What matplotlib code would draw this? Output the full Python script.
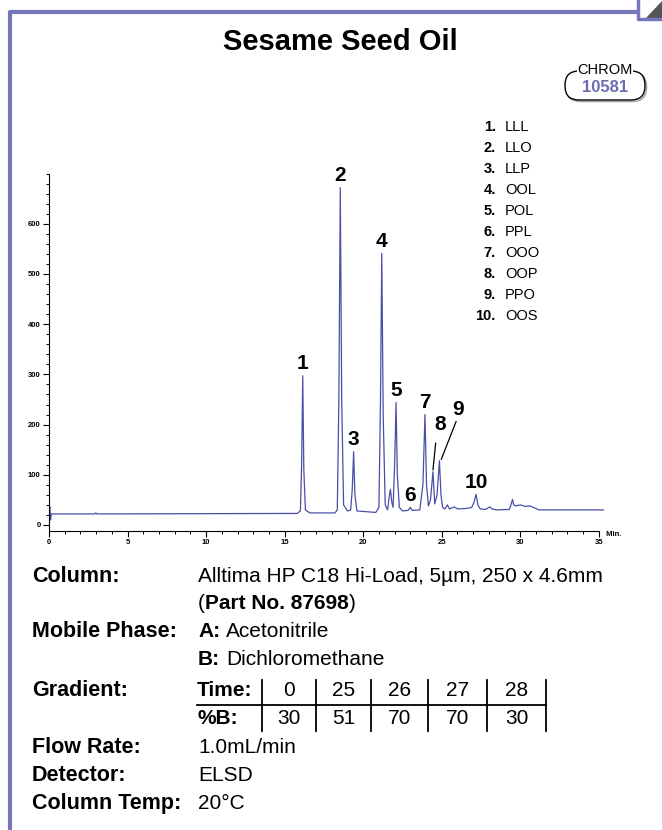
import numpy as np
import matplotlib.pyplot as plt
from matplotlib.ticker import MultipleLocator
from matplotlib.patches import FancyBboxPatch, Rectangle, Polygon

plt.rcParams['font.family'] = ['Liberation Sans', 'DejaVu Sans']

W, H = 662, 830

# ELSD trace, time (min) vs signal
trace_t = [0.0, 0.05, 0.1, 0.15, 0.3, 2.9, 2.97, 3.05, 15.8, 16.0, 16.08, 16.15, 16.22, 16.32,
           16.6, 18.2, 18.35, 18.45, 18.54, 18.63, 18.75, 19.0, 19.2, 19.3, 19.39, 19.47,
           19.6, 20.8, 21.0, 21.1, 21.18, 21.27, 21.4, 21.55, 21.65, 21.73, 21.82, 21.9,
           22.0, 22.09, 22.17, 22.3, 22.5, 22.85, 23.0, 23.12, 23.6, 23.8, 23.93, 24.03,
           24.15, 24.28, 24.44, 24.55, 24.7, 24.85, 24.95, 25.05, 25.2, 25.35, 25.5, 25.8,
           26.0, 26.6, 26.9, 27.05, 27.18, 27.3, 27.45, 27.8, 28.05, 28.2, 28.5, 29.3,
           29.4, 29.5, 29.58, 29.7, 30.0, 30.3, 30.6, 30.9, 31.2, 35.3]
trace_y = [22, 36, 10, 22, 22, 22, 24, 22, 23, 28, 120, 297, 110, 30,
           24, 24, 30, 250, 672, 250, 40, 28, 30, 70, 146, 60,
           28, 25, 35, 250, 541, 220, 40, 30, 55, 71, 45, 35,
           120, 244, 100, 35, 28, 29, 35, 29, 30, 80, 220, 80,
           38, 50, 106, 42, 60, 128, 60, 35, 32, 40, 32, 36,
           32, 33, 35, 45, 61, 40, 32, 31, 36, 32, 30, 31,
           40, 51, 40, 38, 40, 37, 38, 34, 30, 30]

peak_no = [1, 2, 3, 4, 5, 6, 7, 8, 9, 10]
peak_t = [16.15, 18.54, 19.39, 21.18, 22.09, 23.0, 23.93, 24.44, 24.85, 27.18]
peak_h = [297, 672, 146, 541, 244, 35, 220, 106, 128, 61]
compounds = ['LLL', 'LLO', 'LLP', 'OOL', 'POL', 'PPL', 'OOO', 'OOP', 'PPO', 'OOS']

grad_time = [0, 25, 26, 27, 28]
grad_b = [30, 51, 70, 70, 30]

frame_col = '#7676bb'
line_col = '#4a4fa6'

fig = plt.figure(figsize=(W / 100, H / 100), dpi=100)

# pixel-space layer for the page furniture
bg = fig.add_axes([0, 0, 1, 1])
bg.set_xlim(0, W)
bg.set_ylim(H, 0)
bg.axis('off')

bg.plot([10, 10, 638], [H, 12, 12], color=frame_col, lw=3, solid_capstyle='butt')
bg.plot([638, 638, W], [0, 19, 19], color=frame_col, lw=2.5)
bg.add_patch(Polygon([[646, 19], [W, 2], [W, 19]], closed=True, color='#555555'))

bg.text(340, 42, 'Sesame Seed Oil', ha='center', va='center', fontsize=21, fontweight='bold')

# CHROM badge
bg.add_patch(FancyBboxPatch((566.5, 72.5), 80, 29, boxstyle='round,pad=0,rounding_size=14',
                            fc='none', ec='#aaaaaa', lw=1.2))
bg.add_patch(FancyBboxPatch((565, 71), 80, 29, boxstyle='round,pad=0,rounding_size=14',
                            fc='white', ec='black', lw=1.0))
bg.add_patch(Rectangle((577, 64), 56, 12, fc='white', ec='none', zorder=3))
bg.text(605, 70, 'CHROM', ha='center', va='center', fontsize=10.5, zorder=4)
bg.text(605, 88, '10581', ha='center', va='center', fontsize=12, fontweight='bold',
        color='#6c6cb4', zorder=4)

# compound key
for i, (n, c) in enumerate(zip(peak_no, compounds)):
    yy = 127 + i * 21
    bg.text(496, yy, f'{n}.', ha='right', va='center', fontsize=10.5, fontweight='bold')
    bg.text(505, yy, c, ha='left', va='center', fontsize=10.5)

# chromatogram
ax = fig.add_axes([49 / W, 1 - 531 / H, 554.6 / W, 357.4 / H])
ax.set_facecolor('none')
ax.plot(trace_t, trace_y, color=line_col, lw=0.9)
ax.set_xlim(0, 35.3)
ax.set_ylim(-12, 700)
for s in ['top', 'right']:
    ax.spines[s].set_visible(False)
ax.spines['bottom'].set_bounds(0, 35)
ax.set_xticks(range(0, 36, 5))
ax.set_yticks(range(0, 601, 100))
ax.xaxis.set_minor_locator(MultipleLocator(1))
ax.yaxis.set_minor_locator(MultipleLocator(20))
ax.tick_params(which='major', length=4, width=0.8, labelsize=5.5, pad=2)
ax.tick_params(which='minor', length=2.5, width=0.7)
for lbl in ax.get_xticklabels() + ax.get_yticklabels():
    lbl.set_fontweight('bold')
ax.text(35.35, -12, ' Min.', transform=ax.transData, ha='left', va='top',
        fontsize=5.5, fontweight='bold')

for n, t, h in zip(peak_no, peak_t, peak_h):
    if n == 8:
        ax.plot([t, 24.61], [h + 4, 163], color='black', lw=0.9)
        ax.text(24.9, 181, str(n), ha='center', va='bottom', fontsize=15, fontweight='bold')
    elif n == 9:
        ax.plot([t + 0.12, 25.91], [h + 3, 206], color='black', lw=0.9)
        ax.text(26.05, 211, str(n), ha='center', va='bottom', fontsize=15, fontweight='bold')
    else:
        ax.annotate(str(n), (t, h), xytext=(0, 2), textcoords='offset points',
                    ha='center', va='bottom', fontsize=15, fontweight='bold')

# method conditions
renderer = fig.canvas.get_renderer()


def rich(x, y, parts, size=15):
    for s, w in parts:
        t = bg.text(x, y, s, ha='left', va='center', fontsize=size, fontweight=w)
        x += t.get_window_extent(renderer=renderer).width
        if s.endswith(':'):
            x += 0.3 * size * 100 / 72


lab_x, val_x = 32, 198
lab_size = 15.5
bg.text(lab_x, 576, 'Column:', ha='left', va='center', fontsize=lab_size, fontweight='bold')
rich(val_x, 576, [('Alltima HP C18 Hi-Load, 5µm, 250 x 4.6mm', 'normal')])
rich(val_x, 603, [('(', 'normal'), ('Part No. 87698', 'bold'), (')', 'normal')])
bg.text(lab_x, 631, 'Mobile Phase:', ha='left', va='center', fontsize=lab_size, fontweight='bold')
rich(val_x, 631, [('A:', 'bold'), ('Acetonitrile', 'normal')])
rich(val_x, 659, [('B:', 'bold'), ('Dichloromethane', 'normal')])

bg.text(lab_x, 690, 'Gradient:', ha='left', va='center', fontsize=lab_size, fontweight='bold')
bars = [262, 316, 371, 428, 487, 546]
bg.text(197, 690, 'Time:', ha='left', va='center', fontsize=15, fontweight='bold')
bg.text(197, 718, '%B:', ha='left', va='center', fontsize=15, fontweight='bold')
bg.plot([197, bars[-1]], [705, 705], color='black', lw=1.3)
for bx in bars:
    bg.plot([bx, bx], [680, 731], color='black', lw=1.3)
for i, (tm, b) in enumerate(zip(grad_time, grad_b)):
    cx = (bars[i] + bars[i + 1]) / 2
    bg.text(cx, 690, str(tm), ha='center', va='center', fontsize=15)
    bg.text(cx, 718, str(b), ha='center', va='center', fontsize=15)

for lab, yy, val in [('Flow Rate:', 747, '1.0mL/min'), ('Detector:', 775, 'ELSD'),
                     ('Column Temp:', 803, '20°C')]:
    bg.text(lab_x, yy, lab, ha='left', va='center', fontsize=lab_size, fontweight='bold')
    bg.text(val_x, yy, val, ha='left', va='center', fontsize=15)

fig.savefig('out.png', dpi=100)
